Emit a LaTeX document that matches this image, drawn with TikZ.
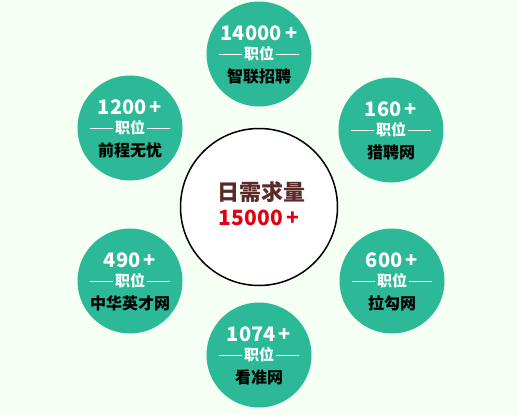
\documentclass[tikz,border=0pt]{standalone}
\usepackage{fontspec}
\setmainfont{Noto Sans CJK SC}
\usetikzlibrary{positioning}
\definecolor{bgmint}{HTML}{F5FFF4}
\definecolor{jobgreen}{HTML}{2BB997}
\definecolor{titlebrown}{HTML}{5B2A26}
\definecolor{totalred}{HTML}{E0000F}

\begin{document}
\begin{tikzpicture}[x=1pt, y=-1pt,
    sitecircle/.style={circle, fill=jobgreen, minimum size=105pt, inner sep=0pt},
    jobcount/.style={text=white, font=\bfseries\fontsize{20}{20}\selectfont},
    jobtag/.style={text=white, inner sep=1.5pt, font=\bfseries\fontsize{15}{15}\selectfont},
    sitename/.style={text=black, font=\bfseries\fontsize{16}{16}\selectfont},
    tagline/.style={white, line width=0.7pt}]
    \fill[bgmint] (0,0) rectangle (517,415);
    % centre
    \node[circle, draw=black, line width=1.5pt, fill=white, minimum size=157pt] (daily) at (259,207) {};
    \node[text=titlebrown, font=\bfseries\fontsize{22}{22}\selectfont] (title) at (261,192) {日需求量};
    \node[text=totalred, font=\bfseries\fontsize{21}{21}\selectfont] (total) at (259,218) {15000\,+};
    % six sites
    \foreach \name/\cx/\cy/\num/\site in {
        zhilian/259/54/14000/智联招聘,
        liepin/391/130/160/猎聘网,
        lagou/392/281/600/拉勾网,
        kanzhun/259/355/1074/看准网,
        zhonghua/130/281/490/中华英才网,
        qiancheng/130/128/1200/前程无忧} {
        \node[sitecircle] (\name) at (\cx,\cy) {};
        \node[jobcount] (\name-num) at (\cx,\cy-21) {\num\,+};
        \node[jobtag] (\name-tag) at (\cx,\cy) {职位};
        \draw[tagline] (\name-tag.west) -- ++(-23,0);
        \draw[tagline] (\name-tag.east) -- ++(23,0);
        \node[sitename] (\name-site) at (\cx,\cy+22) {\site};
    }
\end{tikzpicture}
\end{document}
